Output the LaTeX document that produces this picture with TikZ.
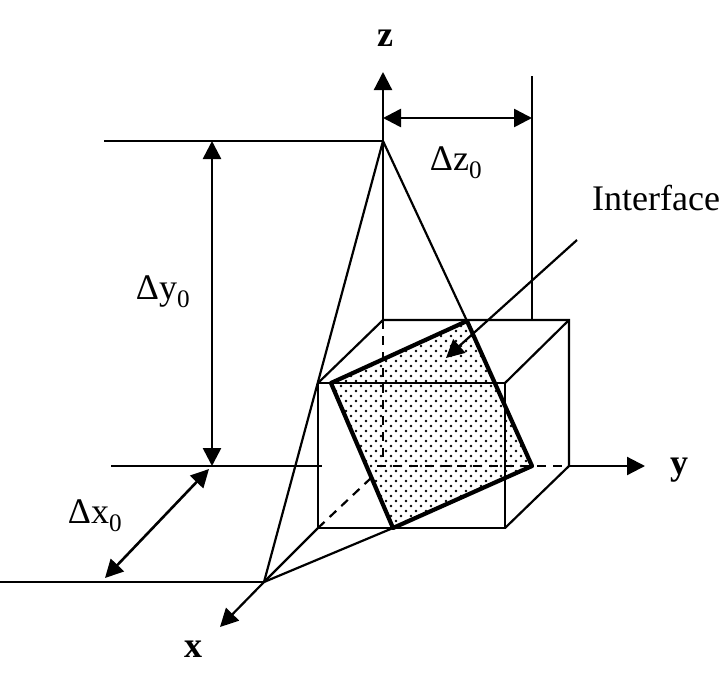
\documentclass[tikz,border=0pt]{standalone}
\usepackage{fontspec}
\setmainfont{Liberation Serif}
\usetikzlibrary{arrows.meta,patterns}

% staggered dots of the interface
\pgfdeclarepatternformonly{ifdots}{\pgfqpoint{-1pt}{-1pt}}{\pgfqpoint{11pt}{11pt}}{\pgfqpoint{10pt}{10pt}}{%
    \pgfpathcircle{\pgfqpoint{1pt}{1pt}}{1.3pt}
    \pgfpathcircle{\pgfqpoint{6pt}{6pt}}{1.3pt}
    \pgfusepath{fill}
}

\begin{document}
\begin{tikzpicture}[
    % GLOBAL CFG
    x=1pt,
    y=-1pt,
    >={Triangle[length=18pt,width=18pt]},
    % Styles
    thin line/.style={% For the cube and the guide lines
        line width=2.2pt,
        },
    hidden/.style={% For hidden edges
        line width=2.2pt,
        dash pattern=on 9pt off 7pt,
        },
    interface/.style={% For the dotted plane
        line width=4.2pt,
        line join=round,
        pattern=ifdots,
        },
    dimen/.style={% For dimension arrows
        <->,
        line width=2.6pt,
        },
    axislabel/.style={% For x, y and z
        font=\fontsize{36}{36}\selectfont\bfseries,
        inner sep=0pt,
        },
    dimlabel/.style={% For the dimension texts
        font=\fontsize{36}{36}\selectfont,
        inner sep=0pt,
        },
    ]
    \useasboundingbox (0,0) rectangle (720,697);

    % Cube corners named as back/front
    \coordinate (btl) at (383,320);
    \coordinate (btr) at (569,320);
    \coordinate (bbl) at (383,466);
    \coordinate (bbr) at (569,466);
    \coordinate (ftl) at (318,383);
    \coordinate (ftr) at (505,383);
    \coordinate (fbl) at (318,528);
    \coordinate (fbr) at (505,528);

    % Interface corners
    \coordinate (i1) at (331,383);
    \coordinate (i2) at (467,321);
    \coordinate (i3) at (532,466);
    \coordinate (i4) at (393,528);

    % Apexes on the axes
    \coordinate (zapex) at (383,141);
    \coordinate (xapex) at (264,582);

    % Free ends
    \coordinate (ztip) at (383,72);
    \coordinate (ytip) at (645,466);
    \coordinate (xtip) at (220,627);
    \coordinate (ytop) at (104,141);
    \coordinate (ymid) at (111,466);
    \coordinate (ymidend) at (322,466);
    \coordinate (xleft) at (0,582);
    \coordinate (ztop) at (532,76);
    \coordinate (zbot) at (532,320);
    \coordinate (ifrom) at (577,240);
    \coordinate (ito) at (446,358);
    \coordinate (dashend) at (371,478);
    \coordinate (dashstart) at (377,466);
    \coordinate (vdashend) at (383,458);

    % Draw the interface
    \draw [interface] (i1) -- (i2) -- (i3) -- (i4) -- cycle;

    % Draw the cube
    \draw [thin line] (ftl) rectangle (fbr);
    \draw [thin line] (ftl) -- (btl) -- (btr) -- (bbr) -- (fbr);
    \draw [thin line] (ftr) -- (btr);
    \draw [hidden] (btl) -- (vdashend);
    \draw [hidden] (dashstart) -- (bbr);
    \draw [hidden] (fbl) -- (dashend);

    % Draw the axes
    \draw [->, thin line] (btl) -- (ztip);
    \draw [->, thin line] (bbr) -- (ytip);
    \draw [->, thin line] (xapex) -- (xtip);

    % Projection lines
    \draw [thin line] (zapex) -- (xapex);
    \draw [thin line] (zapex) -- (i2);
    \draw [thin line] (xapex) -- (fbl);
    \draw [thin line] (xapex) -- (i4);

    % Guide lines
    \draw [thin line] (ytop) -- (zapex);
    \draw [thin line] (ymid) -- (ymidend);
    \draw [thin line] (xleft) -- (xapex);
    \draw [thin line] (ztop) -- (zbot);

    % Dimensions
    \coordinate (dz1) at (383,118);
    \coordinate (dz2) at (532,118);
    \coordinate (dy1) at (212,141);
    \coordinate (dy2) at (212,466);
    \coordinate (dx1) at (105,578);
    \coordinate (dx2) at (209,469);
    \draw [dimen] (dz1) -- (dz2);
    \draw [dimen] (dy1) -- (dy2);
    \draw [dimen] (dx1) -- (dx2);
    \draw [->, thin line] (ifrom) -- (ito);

    % Labels
    \node [axislabel] (zlabel) at (385,38) {z};
    \node [axislabel] (ylabel) at (679,470) {y};
    \node [axislabel] (xlabel) at (193,649) {x};
    \node [dimlabel] (dzlabel) at (456,163) {Δz\textsubscript{0}};
    \node [dimlabel] (dylabel) at (163,292) {Δy\textsubscript{0}};
    \node [dimlabel] (dxlabel) at (95,516) {Δx\textsubscript{0}};
    \node [dimlabel, anchor=base west] (iflabel) at (592,210) {Interface};

\end{tikzpicture}
\end{document}
